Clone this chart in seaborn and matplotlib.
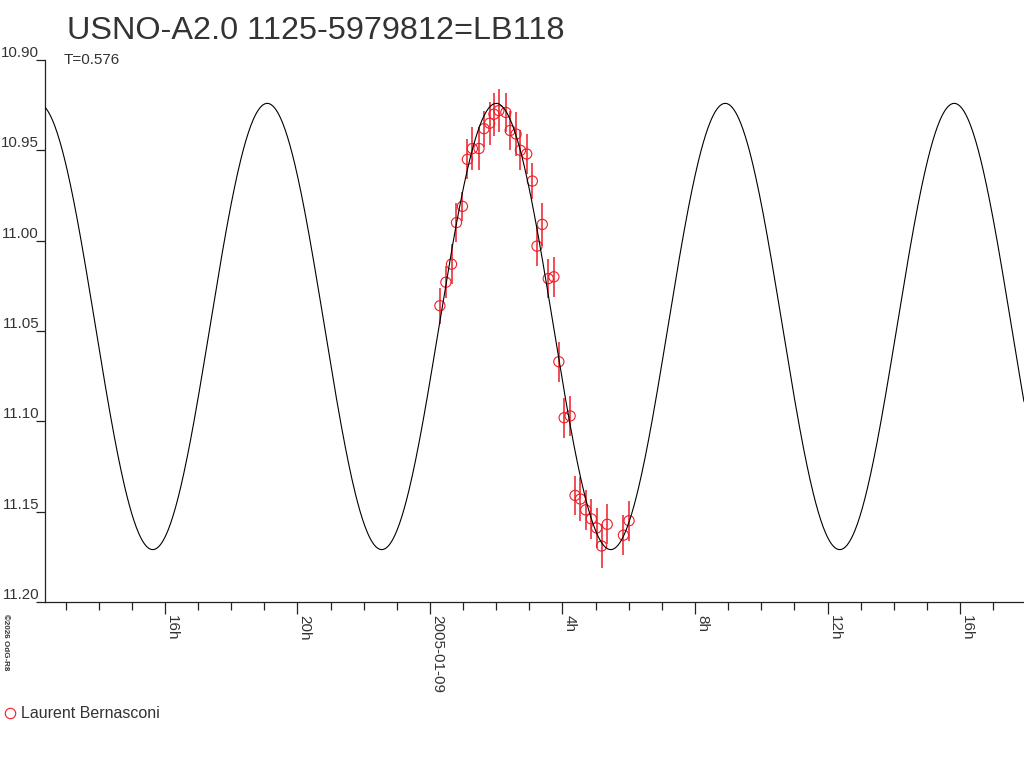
import numpy as np
import pandas as pd
import matplotlib
matplotlib.use("Agg")
import matplotlib.pyplot as plt
from matplotlib.lines import Line2D
import seaborn as sns

# --- data (hours relative to 2005-01-09 00:00 UT, magnitudes) ---
title = "USNO-A2.0 1125-5979812=LB118"
period_label = "T=0.576"
observer = "Laurent Bernasconi"

obs_hours = [0.30, 0.48, 0.65, 0.80, 0.98, 1.13, 1.28, 1.48, 1.63, 1.80,
             1.93, 2.08, 2.29, 2.42, 2.60, 2.73, 2.92, 3.09, 3.23, 3.39,
             3.57, 3.74, 3.89, 4.05, 4.23, 4.38, 4.54, 4.70, 4.87, 5.03,
             5.18, 5.35, 5.84, 6.01]
obs_mag = [11.036, 11.023, 11.013, 10.990, 10.981, 10.955, 10.949, 10.949, 10.938, 10.935,
           10.930, 10.928, 10.929, 10.939, 10.941, 10.950, 10.952, 10.967, 11.003, 10.991,
           11.021, 11.020, 11.067, 11.098, 11.097, 11.141, 11.143, 11.149, 11.154, 11.159,
           11.169, 11.157, 11.163, 11.155]
obs_err = [0.010, 0.009, 0.011, 0.011, 0.008, 0.011, 0.012, 0.012, 0.010, 0.012,
           0.012, 0.012, 0.011, 0.011, 0.012, 0.011, 0.011, 0.010, 0.011, 0.012,
           0.011, 0.011, 0.011, 0.011, 0.011, 0.011, 0.012, 0.011, 0.011, 0.011,
           0.012, 0.011, 0.011, 0.011]

# fitted double-wave model: T in days, epoch of maximum light in hours
T_days = 0.576
mag_mean = 11.0475
mag_amp = 0.1235
t_max = 2.0

x_range = (-11.62, 17.93)
y_ticks = [10.90, 10.95, 11.00, 11.05, 11.10, 11.15, 11.20]
x_major = [-8, -4, 0, 4, 8, 12, 16]
x_labels = ["16h", "20h", "2005-01-09", "4h", "8h", "12h", "16h"]

RED = "#ee1d26"
INK = "#222222"

sns.set_theme(style="white")
plt.rcParams["font.family"] = ["Liberation Sans", "DejaVu Sans"]

obs = pd.DataFrame({"hours": obs_hours, "mag": obs_mag, "err": obs_err})

half = T_days * 24 / 2
t = np.linspace(x_range[0], x_range[1], 1200)
model = pd.DataFrame({"hours": t,
                      "mag": mag_mean - mag_amp * np.cos(2 * np.pi * (t - t_max) / half)})

fig = plt.figure(figsize=(10.24, 7.68), dpi=100)
ax = fig.add_axes([45 / 1024, 1 - 602 / 768, 1 - 45 / 1024, (602 - 60) / 768])

ax.errorbar(obs["hours"], obs["mag"], yerr=obs["err"], fmt="none",
            ecolor=RED, elinewidth=1.1, capsize=0, zorder=2)
sns.scatterplot(data=obs, x="hours", y="mag", marker="o", s=54,
                facecolor="none", edgecolor=RED, linewidth=0.8, ax=ax, zorder=3)
sns.lineplot(data=model, x="hours", y="mag", color="black", linewidth=0.8,
             ax=ax, zorder=4)

ax.set_xlim(*x_range)
ax.set_ylim(y_ticks[-1], y_ticks[0])
ax.set_xlabel("")
ax.set_ylabel("")

for s in ["top", "right"]:
    ax.spines[s].set_visible(False)
for s in ["left", "bottom"]:
    ax.spines[s].set_color(INK)
    ax.spines[s].set_linewidth(0.9)

ax.set_yticks(y_ticks)
ax.set_yticklabels([f"{v:.2f}" for v in y_ticks])
ax.tick_params(axis="y", direction="out", length=6.5, width=0.9, color=INK, left=True,
               pad=-2.2, labelsize=10.8, labelcolor="#333333")
for lab in ax.get_yticklabels():
    lab.set_va("bottom")

ax.set_xticks(x_major)
ax.set_xticks(np.arange(-11, 18, 1), minor=True)
ax.set_xticklabels(x_labels, rotation=270)
ax.tick_params(axis="x", which="major", direction="out", length=8.5, width=0.9,
               color=INK, bottom=True, pad=1, labelsize=11, labelcolor="#333333")
ax.tick_params(axis="x", which="minor", direction="out", length=6, width=0.9,
               color=INK, bottom=True)
for lab in ax.get_xticklabels():
    lab.set_ha("left")
    lab.set_va("top")

fig.text(67 / 1024, 1 - 39 / 768, title, fontsize=23.3, color="#333333", va="baseline")
fig.text(64 / 1024, 1 - 64 / 768, period_label, fontsize=11, color="#333333", va="baseline")
fig.text(2 / 1024, 1 - 614 / 768, "\u00a92026 OdG-R8", fontsize=5.8, fontweight="bold",
         rotation=270, color="#333333", ha="left", va="top")

fig.add_artist(Line2D([10 / 1024], [1 - 713 / 768], marker="o", markersize=7.5,
                      markerfacecolor="none", markeredgecolor=RED, markeredgewidth=0.8,
                      linestyle="none", transform=fig.transFigure))
fig.text(21 / 1024, 1 - 718 / 768, observer, fontsize=11.5, color="#333333", va="baseline")

fig.savefig("out.png", dpi=100, facecolor="white")
